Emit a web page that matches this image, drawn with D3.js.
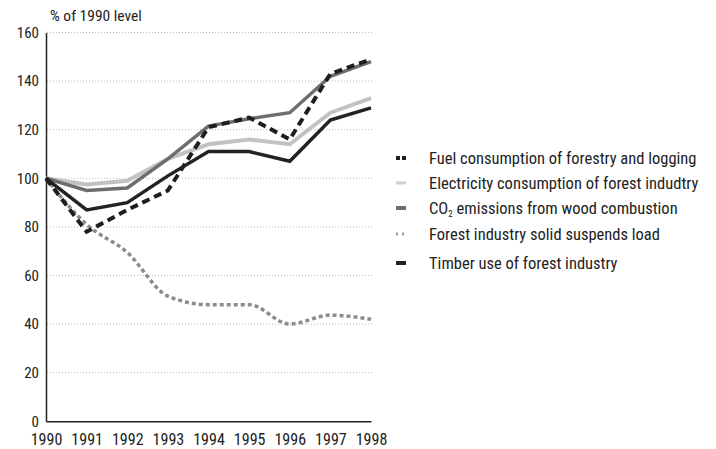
<!DOCTYPE html>
<html><head><meta charset="utf-8">
<script src="https://cdn.jsdelivr.net/npm/d3@7"></script>
<style>
body{margin:0;background:#fff;}
text{font-family:"Liberation Sans Narrow","Roboto Condensed","DejaVu Sans Condensed",sans-serif;fill:#222;}
</style></head><body>
<svg id="c" width="716" height="449"></svg>
<script>
const years = [1990,1991,1992,1993,1994,1995,1996,1997,1998];
const fuel = [100,78,87,95,121,125,116,143,149];
const electricity = [100,97.5,99,108,114,116,114,127,133];
const co2 = [100,95,96,108,121.5,124.5,127,142,148];
const suspended = [100,81,69.5,51.5,48,48,40,43.7,42];
const timber = [100,87,90,101,111,111,107,124,129];
const yTicks = [0,20,40,60,80,100,120,140,160];
const seriesNames = ["Fuel consumption of forestry and logging","Electricity consumption of forest indudtry","CO2 emissions from wood combustion","Forest industry solid suspends load","Timber use of forest industry"];

const svg = d3.select("#c");
const x = d3.scaleLinear().domain([1990,1998]).range([46,371]);
const y = d3.scaleLinear().domain([0,160]).range([421.3,32.5]);

// grid
svg.append("g").selectAll("line").data(yTicks.filter(d=>d>0)).join("line")
  .attr("x1",47).attr("x2",372).attr("y1",d=>y(d)).attr("y2",d=>y(d))
  .attr("stroke","#bbb").attr("stroke-width",1).attr("stroke-dasharray","1,2");

// axes
const ya = d3.axisLeft(y).tickValues(yTicks).tickSize(0).tickPadding(7);
const gy = svg.append("g").attr("transform","translate(46,0)").call(ya);
gy.select(".domain").attr("stroke","#222").attr("stroke-width",1.5);
gy.selectAll("text").style("font-size","15px").attr("fill","#222");
const xa = d3.axisBottom(x).tickValues(years).tickFormat(d3.format("d")).tickSize(0).tickPadding(12);
const gx = svg.append("g").attr("transform","translate(0,421.3)").call(xa);
gx.select(".domain").attr("stroke","#222").attr("stroke-width",1.5);
gx.selectAll("text").style("font-size","16px").attr("fill","#222");

svg.append("text").attr("x",50).attr("y",21).style("font-size","15.5px").text("% of 1990 level");

const line = d3.line().x((d,i)=>x(years[i])).y(d=>y(d));
const smooth = d3.line().x((d,i)=>x(years[i])).y(d=>y(d)).curve(d3.curveMonotoneX);

const styles = [
  {data:suspended, stroke:"#8c8c8c", w:3.5, dash:"4,3", gen:smooth},
  {data:electricity, stroke:"#c2c2c2", w:4, dash:null, gen:line},
  {data:co2, stroke:"#6e6e6e", w:3.5, dash:null, gen:line},
  {data:timber, stroke:"#232323", w:3.5, dash:null, gen:line},
  {data:fuel, stroke:"#1e1e1e", w:4, dash:"8,5", gen:line}
];
styles.forEach(s=>{
  svg.append("path").attr("d",s.gen(s.data)).attr("fill","none")
    .attr("stroke",s.stroke).attr("stroke-width",s.w)
    .attr("stroke-dasharray",s.dash).attr("stroke-linejoin","miter");
});

// legend
const leg = [
  {name:seriesNames[0], stroke:"#1e1e1e", dash:"4,2", w:4},
  {name:seriesNames[1], stroke:"#cfcfcf", dash:null, w:3},
  {name:seriesNames[2], stroke:"#6e6e6e", dash:null, w:4},
  {name:seriesNames[3], stroke:"#9a9a9a", dash:"2,4", w:3},
  {name:seriesNames[4], stroke:"#232323", dash:null, w:4}
];
const ly = [158, 183, 208, 234, 263];
leg.forEach((l,i)=>{
  svg.append("line").attr("x1",396).attr("x2",406).attr("y1",ly[i]).attr("y2",ly[i])
    .attr("stroke",l.stroke).attr("stroke-width",l.w).attr("stroke-dasharray",l.dash);
  const t = svg.append("text").attr("x",429).attr("y",ly[i]+6).style("font-size","16.5px");
  if(l.name.startsWith("CO2")){
    t.append("tspan").text("CO");
    t.append("tspan").attr("dy",3).style("font-size","9px").text("2");
    t.append("tspan").attr("dy",-3).text(" emissions from wood combustion");
  } else t.text(l.name);
});
</script></body></html>
